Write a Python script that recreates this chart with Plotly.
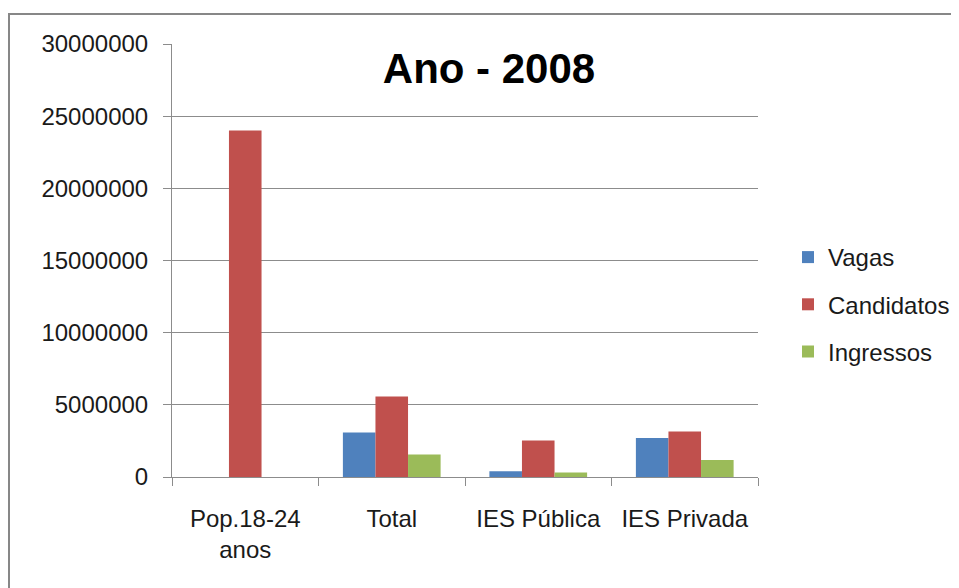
import plotly.graph_objects as go

categories = ["Pop.18-24<br>anos", "Total", "IES Pública", "IES Privada"]
vagas = [None, 3080000, 400000, 2710000]
candidatos = [24000000, 5580000, 2530000, 3150000]
ingressos = [None, 1560000, 310000, 1180000]
y_ticks = [0, 5000000, 10000000, 15000000, 20000000, 25000000, 30000000]

FONT = "Liberation Sans"
OFF = 8  # default page body margin
W, H = 959 - OFF, 588 - OFF
L, T = 172 - OFF, 44 - OFF
PR, PB = 758 - OFF, 477 - OFF
R, B = W - PR, H - PB
pw, ph = W - L - R, H - T - B

fig = go.Figure()
for name, vals, col, g in [("Vagas", vagas, "#4F81BD", "a"),
                           ("Candidatos", candidatos, "#C0504D", "b"),
                           ("Ingressos", ingressos, "#9BBB59", "c")]:
    fig.add_trace(go.Bar(x=categories, y=vals, name=name, marker_color=col,
                         marker_line_width=0, legendgroup=g))

def px_x(p):
    return (p - OFF - L) / pw

def px_y(p):
    return (H + OFF - B - p) / ph

fig.update_layout(
    width=W, height=H,
    margin=dict(l=L, r=R, t=T, b=B, pad=0),
    paper_bgcolor="white", plot_bgcolor="white",
    barmode="group", bargap=0.333, bargroupgap=0,
    font=dict(family=FONT, size=24, color="#1a1a1a"),
    showlegend=True,
    legend=dict(xref="container", yref="container",
                x=(788 - OFF) / W, y=1 - (235 - OFF) / H,
                xanchor="left", yanchor="top",
                tracegroupgap=13, font=dict(size=24), itemwidth=30,
                bgcolor="rgba(0,0,0,0)"),
    title=dict(text="<b>Ano - 2008</b>", x=(489 - OFF) / W, xanchor="center",
               y=1 - (68 - OFF) / H, yanchor="middle",
               font=dict(family=FONT, size=42, color="black")),
    shapes=[dict(type="rect", xref="paper", yref="paper",
                 x0=px_x(9), x1=px_x(975), y0=px_y(600), y1=px_y(14),
                 line=dict(color="#878787", width=2), layer="below")],
)
fig.update_yaxes(range=[0, 30000000], tickvals=y_ticks,
                 ticktext=[str(v) for v in y_ticks],
                 showgrid=True, gridcolor="#8c8c8c", gridwidth=1,
                 showline=True, linecolor="#8c8c8c", linewidth=1,
                 ticks="outside", ticklen=8, tickcolor="#8c8c8c",
                 ticklabelstandoff=10, zeroline=False)
fig.update_xaxes(showline=True, linecolor="#8c8c8c", linewidth=1,
                 ticks="outside", ticklen=8, tickcolor="#8c8c8c",
                 tickson="boundaries", ticklabelstandoff=20, showgrid=False)

fig.write_html("out.html")
